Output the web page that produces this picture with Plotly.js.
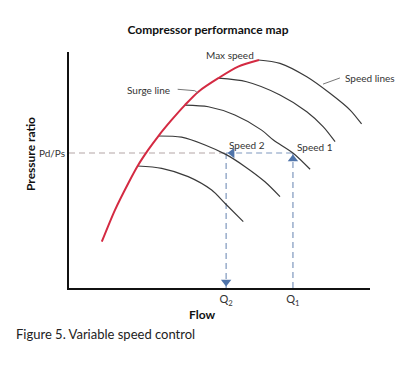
<!DOCTYPE html>
<html><head><meta charset="utf-8">
<script src="https://cdn.plot.ly/plotly-3.0.1.min.js"></script>
<style>html,body{margin:0;padding:0;background:#fff}#chart{width:400px;height:366px}</style>
</head><body><div id="chart"></div>
<script>
// Surge line (red)
const surgeFlow = [10.9, 15.3, 19.7, 22.8, 26.3, 29.7, 34.1, 38.5, 43.0, 49.6, 56.2, 63.1];
const surgePR   = [19.6, 33.1, 44.4, 51.7, 58.5, 64.4, 71.2, 77.5, 83.2, 88.9, 93.8, 96.6];
// Speed lines, top (max speed) to bottom
const speedA_flow = [62.9, 70.1, 79.0, 86.7, 93.4, 97.2];
const speedA_pr   = [96.6, 95.2, 89.5, 82.5, 75.4, 69.5];
const speedB_flow = [49.6, 59.0, 70.1, 79.0, 84.5, 88.4];
const speedB_pr   = [88.9, 87.4, 81.8, 74.7, 68.3, 62.0];
const speedC_flow = [38.5, 46.3, 55.1, 64.0, 67.9, 74.5, 80.1];
const speedC_pr   = [77.5, 76.8, 73.3, 66.9, 62.7, 57.1, 50.3];
const speedD_flow = [29.7, 37.4, 45.2, 52.4, 58.5, 65.1, 70.1];
const speedD_pr   = [64.4, 63.9, 60.6, 56.4, 51.4, 45.0, 38.7];
const speedE_flow = [22.8, 30.8, 39.6, 47.4, 51.8, 57.9];
const speedE_pr   = [51.7, 50.7, 47.2, 41.5, 35.9, 28.1];
// Operating points
const pdps = 57.2;
const q2 = 52.2;
const q1 = 74.4;
const xTickLabels = ["Q<sub>2</sub>", "Q<sub>1</sub>"];
const yTickLabels = ["Pd/Ps"];

const FONT = "Lato, 'Open Sans', sans-serif";
const dash = "6px,4px";
const blue = "#7e97bd";
const arrowBlue = "#4f74aa";

const speedLine = (x, y) => ({x, y, mode: "lines", line: {color: "#3a3a3a", width: 1.2, shape: "spline", smoothing: 0.8}, hoverinfo: "skip", showlegend: false});

const traces = [
  // dashed guides
  {x: [0, q2], y: [pdps, pdps], mode: "lines", line: {color: "#b3a6a6", width: 1.2, dash}, showlegend: false},
  {x: [q2, q1], y: [pdps, pdps], mode: "lines", line: {color: blue, width: 1.2, dash}, showlegend: false},
  {x: [q2, q2], y: [pdps, 0], mode: "lines", line: {color: blue, width: 1.2, dash}, showlegend: false},
  {x: [q1, q1], y: [0, pdps], mode: "lines", line: {color: blue, width: 1.2, dash}, showlegend: false},
  speedLine(speedA_flow, speedA_pr),
  speedLine(speedB_flow, speedB_pr),
  speedLine(speedC_flow, speedC_pr),
  speedLine(speedD_flow, speedD_pr),
  speedLine(speedE_flow, speedE_pr),
  {x: surgeFlow, y: surgePR, mode: "lines", line: {color: "#d42a42", width: 2, shape: "spline", smoothing: 0.8}, showlegend: false},
  // leader lines
  {x: [84.4, 90.0], y: [86.4, 89.0], mode: "lines", line: {color: "#777", width: 1}, showlegend: false},
  {x: [36.1, 41.8, 42.8], y: [84.2, 83.6, 82.6], mode: "lines", line: {color: "#777", width: 1}, showlegend: false},
  // arrowheads
  {x: [q2], y: [2.5], mode: "markers", marker: {symbol: "triangle-down", size: 9, color: arrowBlue}, showlegend: false, cliponaxis: false},
  {x: [q1], y: [54.7], mode: "markers", marker: {symbol: "triangle-up", size: 9, color: arrowBlue}, showlegend: false},
  {x: [q2 + 2.0], y: [pdps], mode: "markers", marker: {symbol: "triangle-left", size: 9, color: arrowBlue}, showlegend: false}
];

const lbl = (text, x, y, xanchor) => ({text, x, y, xref: "x", yref: "y", xanchor, yanchor: "middle", showarrow: false, font: {family: FONT, size: 10, color: "#333"}});

const layout = {
  width: 400, height: 366,
  margin: {l: 69, r: 30, t: 52, b: 78},
  paper_bgcolor: "#fff", plot_bgcolor: "#fff",
  font: {family: FONT, color: "#222"},
  title: {text: "<b>Compressor performance map</b>", x: 0.52, xref: "container", xanchor: "center", y: 1 - 30/366, yref: "container", yanchor: "middle", font: {family: FONT, size: 12, color: "#111"}},
  xaxis: {range: [0, 100], showgrid: false, zeroline: false, showline: true, linecolor: "#111", linewidth: 2,
          tickmode: "array", tickvals: [q2, q1], ticktext: xTickLabels, ticks: "", tickfont: {family: FONT, size: 11, color: "#333"}},
  yaxis: {range: [0, 100], showgrid: false, zeroline: false, showline: true, linecolor: "#111", linewidth: 2,
          tickmode: "array", tickvals: [pdps], ticktext: yTickLabels, ticks: "", tickfont: {family: FONT, size: 10, color: "#333"}},
  annotations: [
    lbl("Max speed", 53.5, 98.9, "center"),
    lbl("Surge line", 34.2, 83.9, "right"),
    lbl("Speed lines", 91.0, 89.0, "left"),
    lbl("Speed 2", 52.5, 60.4, "left"),
    lbl("Speed 1", 75.1, 59.9, "left"),
    {text: "<b>Flow</b>", xref: "paper", yref: "paper", x: (202-69)/301, y: (288-314)/236, xanchor: "center", yanchor: "middle", showarrow: false, font: {family: FONT, size: 12, color: "#111"}},
    {text: "<b>Pressure ratio</b>", xref: "paper", yref: "paper", x: (30-69)/301, y: (288-154)/236, xanchor: "center", yanchor: "middle", textangle: -90, showarrow: false, font: {family: FONT, size: 12, color: "#111"}},
    {text: "Figure 5. Variable speed control", xref: "paper", yref: "paper", x: (14-69)/301, y: (288-334)/236, xanchor: "left", yanchor: "middle", showarrow: false, font: {family: FONT, size: 13, color: "#222"}}
  ]
};

Plotly.newPlot("chart", traces, layout, {staticPlot: true, displayModeBar: false});
</script></body></html>
